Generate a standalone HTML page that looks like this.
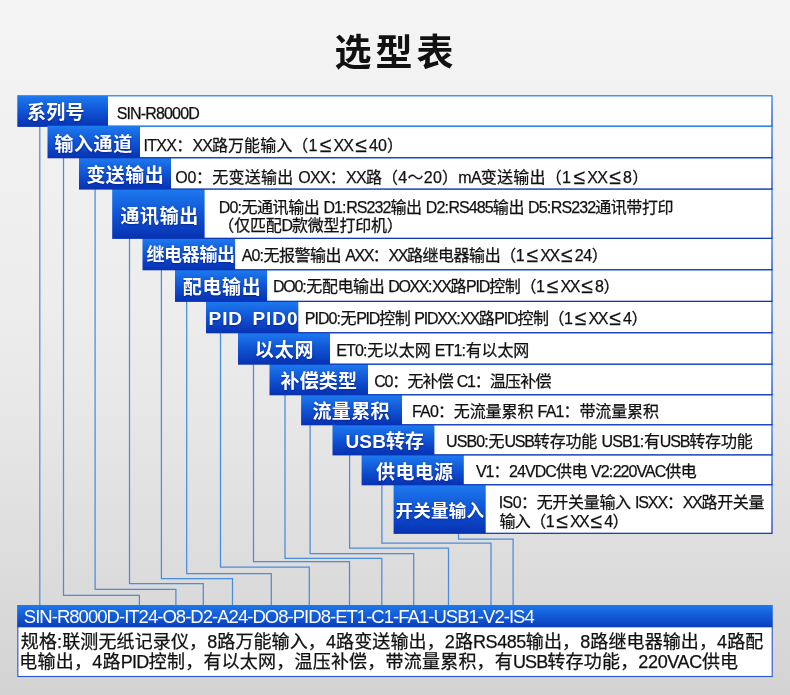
<!DOCTYPE html>
<html lang="zh-CN">
<head>
<meta charset="utf-8">
<title>选型表</title>
<style>
html,body{margin:0;padding:0}
body{width:790px;height:695px;position:relative;overflow:hidden;
 font-family:"Liberation Sans","Noto Sans CJK SC",sans-serif;
 background:linear-gradient(180deg,#f4f4f4 0%,#ededed 43%,#e8e8e8 58%,#dddddd 80%,#d3d3d3 100%);}
h1{position:absolute;left:0;top:28px;width:790px;margin:0;text-align:center;
 font-size:37px;line-height:52px;font-weight:bold;color:#111;letter-spacing:4px;text-indent:1.8px}
.t{position:absolute;z-index:40;white-space:nowrap;line-height:20px;height:20px;font-size:16px;color:#111;-webkit-text-stroke:.25px #111}
.m{--d:1px;letter-spacing:var(--l)}
.t b{font-weight:normal}
.q1{letter-spacing:calc(var(--l) - var(--d)*.25)}
.q2{letter-spacing:calc(var(--l) - var(--d)*.5)}
.q3{letter-spacing:calc(var(--l) - var(--d)*.75)}
.q4{letter-spacing:calc(var(--l) - var(--d))}
.t i{display:inline-block;width:16px;text-align:center;font-style:normal;font-size:21px;line-height:0;letter-spacing:0;position:relative;top:1px}
.bw{color:#fff;-webkit-text-stroke:0}
.w{color:#fff;font-weight:bold;font-size:19px;-webkit-text-stroke:0;text-shadow:0 1px 2px rgba(0,20,120,.6)}
svg{position:absolute;left:0;top:0}
</style>
</head>
<body>
<h1>选型表</h1>
<svg width="790" height="695" viewBox="0 0 790 695">
<defs>
<linearGradient id="g" x1="0" y1="0" x2="0" y2="1"><stop offset="0" stop-color="#1f7bf0"/><stop offset=".45" stop-color="#1158d8"/><stop offset="1" stop-color="#0631b2"/></linearGradient>
<linearGradient id="gb" x1="0" y1="0" x2="0" y2="1"><stop offset="0" stop-color="#1c78ee"/><stop offset="1" stop-color="#0a3cbc"/></linearGradient>
</defs>
<g fill="none" stroke="#4a8ddb" stroke-width="1.25">
<path d="M39.8 126.3V605"/>
<path d="M63.5 157.7V595.4H139.4V605"/>
<path d="M95.1 189.0V589.4H175.9V605"/>
<path d="M129.5 238.3V583.5H203.3V605"/>
<path d="M161.4 269.7V578.5H232.5V605"/>
<path d="M186.7 301.3V573.6H271.3V605"/>
<path d="M220.5 332.7V567.1H309.3V605"/>
<path d="M253.5 364.1V561.7H349.5V605"/>
<path d="M285 394.7V558.4H381.8V605"/>
<path d="M310.1 424.7V553.6H413.7V605"/>
<path d="M349.6 454.8V548.2H448.5V605"/>
<path d="M381.9 484.7V543H491V605"/>
<path d="M458.5 533.3V539H513.1V605"/>
</g>
<rect x="393.6" y="484.10" width="379.00" height="49.80" fill="url(#g)"/><rect x="485.7" y="485.30" width="285.70" height="47.40" fill="#fff"/>
<rect x="361.6" y="454.20" width="411.00" height="31.10" fill="url(#g)"/><rect x="463.8" y="455.40" width="307.60" height="28.70" fill="#fff"/>
<rect x="332.5" y="424.10" width="440.10" height="31.30" fill="url(#g)"/><rect x="434.4" y="425.30" width="337.00" height="28.90" fill="#fff"/>
<rect x="301.1" y="394.10" width="471.50" height="31.20" fill="url(#g)"/><rect x="402" y="395.30" width="369.40" height="28.80" fill="#fff"/>
<rect x="269.5" y="363.50" width="503.10" height="31.80" fill="url(#g)"/><rect x="368" y="364.70" width="403.40" height="29.40" fill="#fff"/>
<rect x="238" y="332.10" width="534.60" height="32.60" fill="url(#g)"/><rect x="330" y="333.30" width="441.40" height="30.20" fill="#fff"/>
<rect x="206" y="300.70" width="566.60" height="32.60" fill="url(#g)"/><rect x="298.3" y="301.90" width="473.10" height="30.20" fill="#fff"/>
<rect x="175" y="269.10" width="597.60" height="32.80" fill="url(#g)"/><rect x="267.1" y="270.30" width="504.30" height="30.40" fill="#fff"/>
<rect x="142.5" y="237.70" width="630.10" height="32.60" fill="url(#g)"/><rect x="235.1" y="238.90" width="536.30" height="30.20" fill="#fff"/>
<rect x="112.2" y="188.40" width="660.40" height="50.50" fill="url(#g)"/><rect x="204.6" y="189.60" width="566.80" height="48.10" fill="#fff"/>
<rect x="79" y="157.10" width="693.60" height="32.50" fill="url(#g)"/><rect x="171" y="158.30" width="600.40" height="30.10" fill="#fff"/>
<rect x="17.3" y="95.20" width="755.30" height="31.70" fill="url(#g)"/><rect x="108" y="96.40" width="663.40" height="29.30" fill="#fff"/>
<rect x="47.5" y="125.70" width="725.10" height="32.60" fill="url(#g)"/><rect x="140" y="126.90" width="631.40" height="30.20" fill="#fff"/>
<rect x="17.15" y="605" width="755.6" height="22.6" fill="url(#gb)"/>
<rect x="17.3" y="627.4" width="755.45" height="49.65" fill="#2a55cc"/><rect x="18.4" y="627.4" width="753.25" height="48.55" fill="#fff"/>
</svg>
<span class="t w" id="L1" style="left:26.95px;top:103.10px;letter-spacing:0.275px">系列号</span>
<span class="t" id="C1_1" style="left:116.65px;top:103.50px;letter-spacing:-0.842px">SIN-R8000D</span>
<span class="t w" id="L2" style="left:54.55px;top:134.85px;letter-spacing:0.531px">输入通道</span>
<span class="t m" id="C2_1" style="left:143.45px;top:136.01px;--l:0.083px"><b class="q3">ITXX</b>：<b class="q4">XX</b>路万能输入（1<i>≤</i><b class="q4">XX</b><i>≤</i>40）</span>
<span class="t w" id="L3" style="left:86.45px;top:165.60px;letter-spacing:0.429px">变送输出</span>
<span class="t m" id="C3_1" style="left:175.20px;top:167.81px;--l:0.249px"><b class="q2">O0</b>：无变送输出 <b class="q4">OXX</b>：<b class="q4">XX</b>路（4～20）<b class="q4">mA</b>变送输出（1<i>≤</i><b class="q4">XX</b><i>≤</i>8）</span>
<span class="t w" id="L4" style="left:120.50px;top:206.60px;letter-spacing:0.583px">通讯输出</span>
<span class="t m" id="C4_1" style="left:218.75px;top:197.71px;--l:-0.408px"><b class="q2">D0</b>:无通讯输出 <b class="q2">D1</b>:<b class="q2">RS232</b>输出 <b class="q2">D2</b>:<b class="q2">RS485</b>输出 <b class="q2">D5</b>:<b class="q2">RS232</b>通讯带打印</span>
<span class="t m" id="C4_2" style="left:218.35px;top:216.31px;--l:-0.188px">（仅匹配<b class="q4">D</b>款微型打印机）</span>
<span class="t w" id="L5" style="left:146.45px;top:244.94px;letter-spacing:-0.341px;font-size:18px">继电器输出</span>
<span class="t m" id="C5_1" style="left:241.70px;top:246.30px;--l:-0.444px"><b class="q2">A0</b>:无报警输出 <b class="q4">AXX</b>：<b class="q4">XX</b>路继电器输出（1<i>≤</i><b class="q4">XX</b><i>≤</i>24）</span>
<span class="t w" id="L6" style="left:182.75px;top:277.60px;letter-spacing:0.667px">配电输出</span>
<span class="t m" id="C6_1" style="left:272.90px;top:277.41px;--l:-0.418px"><b class="q3">DO0</b>:无配电输出 <b class="q4">DOXX</b>:<b class="q4">XX</b>路<b class="q3">PID</b>控制（1<i>≤</i><b class="q4">XX</b><i>≤</i>8）</span>
<span class="t w" id="L7" style="left:208.60px;top:308.85px;letter-spacing:0.880px;word-spacing:3.5px">PID PID0</span>
<span class="t m" id="C7_1" style="left:304.80px;top:309.31px;--l:-0.451px"><b class="q2">PID0</b>:无<b class="q3">PID</b>控制 <b class="q3">PIDXX</b>:<b class="q4">XX</b>路<b class="q3">PID</b>控制（1<i>≤</i><b class="q4">XX</b><i>≤</i>4）</span>
<span class="t w" id="L8" style="left:254.80px;top:341.35px;letter-spacing:0.850px">以太网</span>
<span class="t m" id="C8_1" style="left:336.25px;top:340.91px;--l:-0.157px"><b class="q3">ET0</b>:无以太网 <b class="q3">ET1</b>:有以太网</span>
<span class="t w" id="L9" style="left:280.45px;top:371.60px;letter-spacing:0.201px">补偿类型</span>
<span class="t m" id="C9_1" style="left:374.25px;top:371.71px;--l:-0.776px"><b class="q2">C0</b>：无补偿 <b class="q2">C1</b>：温压补偿</span>
<span class="t w" id="L10" style="left:312.55px;top:401.85px;letter-spacing:0.316px">流量累积</span>
<span class="t m" id="C10_1" style="left:412.05px;top:402.40px;--l:-0.111px"><b class="q3">FA0</b>：无流量累积 <b class="q3">FA1</b>：带流量累积</span>
<span class="t w" id="L11" style="left:345.50px;top:432.44px;letter-spacing:0.125px">USB转存</span>
<span class="t m" id="C11_1" style="left:446.05px;top:432.21px;--l:-0.155px"><b class="q3">USB0</b>:无<b class="q4">USB</b>转存功能 <b class="q3">USB1</b>:有<b class="q4">USB</b>转存功能</span>
<span class="t w" id="L12" style="left:376.05px;top:462.53px;letter-spacing:0.331px">供电电源</span>
<span class="t m" id="C12_1" style="left:475.90px;top:462.01px;--l:-0.458px"><b class="q2">V1</b>：<b class="q2">24VDC</b>供电 <b class="q2">V2</b>:<b class="q2">220VAC</b>供电</span>
<span class="t w" id="L13" style="left:395.50px;top:500.95px;letter-spacing:0.275px;font-size:17.5px">开关量输入</span>
<span class="t m" id="C13_1" style="left:498.70px;top:493.01px;--l:-0.321px"><b class="q1">IS0</b>：无开关量输入 <b class="q3">ISXX</b>：<b class="q4">XX</b>路开关量</span>
<span class="t m" id="C13_2" style="left:499.45px;top:511.81px;--l:-0.583px">输入（1<i>≤</i><b class="q4">XX</b><i>≤</i>4）</span>
<span class="t bw" id="B" style="left:23.80px;top:607.21px;letter-spacing:-0.973px;font-size:18.5px">SIN-R8000D-IT24-O8-D2-A24-DO8-PID8-ET1-C1-FA1-USB1-V2-IS4</span>
<span class="t m" id="S1" style="left:20.85px;top:631.79px;--l:0.117px;--d:1.15px;font-size:18px">规格:联测无纸记录仪，8路万能输入，4路变送输出，2路<b class="q2">RS485</b>输出，8路继电器输出，4路配</span>
<span class="t m" id="S2" style="left:19.35px;top:651.81px;--l:0.215px;--d:1.15px;font-size:18px">电输出，4路<b class="q3">PID</b>控制，有以太网，温压补偿，带流量累积，有<b class="q4">USB</b>转存功能，<b class="q2">220VAC</b>供电</span>
</body>
</html>
